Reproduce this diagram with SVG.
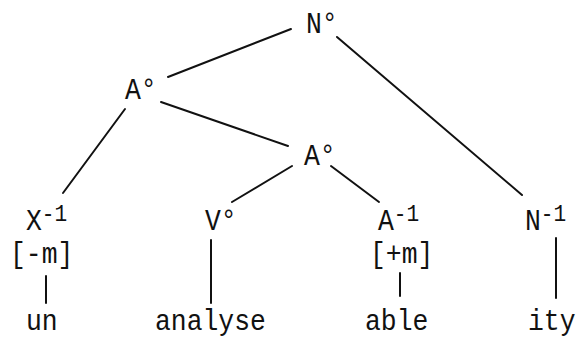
<svg xmlns="http://www.w3.org/2000/svg" width="583" height="339" viewBox="0 0 583 339">
<style>
text{font-family:"Liberation Mono","DejaVu Sans Mono",monospace;font-size:30px;fill:#111}
.sup{font-size:24px}
line{stroke:#111;stroke-width:2;stroke-linecap:round}
</style>
<rect width="583" height="339" fill="#fff"/>
<g id="connectors">
<line x1="291" y1="29" x2="168" y2="77"/>
<line x1="337" y1="37" x2="522" y2="195"/>
<line x1="161" y1="102" x2="288" y2="146"/>
<line x1="125" y1="109" x2="63" y2="193"/>
<line x1="292" y1="166" x2="232" y2="202"/>
<line x1="331" y1="166" x2="379" y2="202"/>
<line x1="46" y1="276" x2="46" y2="303"/>
<line x1="211" y1="240" x2="211" y2="303"/>
<line x1="400" y1="273" x2="400" y2="296"/>
<line x1="556" y1="238" x2="556" y2="298"/>
</g>
<g id="N0"><text transform="translate(306,33) scale(0.88,1)">N°</text></g>
<g id="A0-top"><text transform="translate(125,99) scale(0.88,1)">A°</text></g>
<g id="A0-mid"><text transform="translate(304,165) scale(0.88,1)">A°</text></g>
<g id="X-1"><text transform="translate(26,230) scale(0.88,1)">X<tspan class="sup" dy="-9">-1</tspan></text><text transform="translate(10,263) scale(0.88,1)">[-m]</text></g>
<g id="V0"><text transform="translate(205,230) scale(0.88,1)">V°</text></g>
<g id="A-1"><text transform="translate(378,230) scale(0.88,1)">A<tspan class="sup" dy="-9">-1</tspan></text><text transform="translate(370,263) scale(0.88,1)">[+m]</text></g>
<g id="N-1"><text transform="translate(525,230) scale(0.88,1)">N<tspan class="sup" dy="-9">-1</tspan></text></g>
<g id="un"><text transform="translate(26,330) scale(0.88,1)">un</text></g>
<g id="analyse"><text transform="translate(155,330) scale(0.88,1)">analyse</text></g>
<g id="able"><text transform="translate(365,330) scale(0.88,1)">able</text></g>
<g id="ity"><text transform="translate(528,330) scale(0.88,1)">ity</text></g>
</svg>
